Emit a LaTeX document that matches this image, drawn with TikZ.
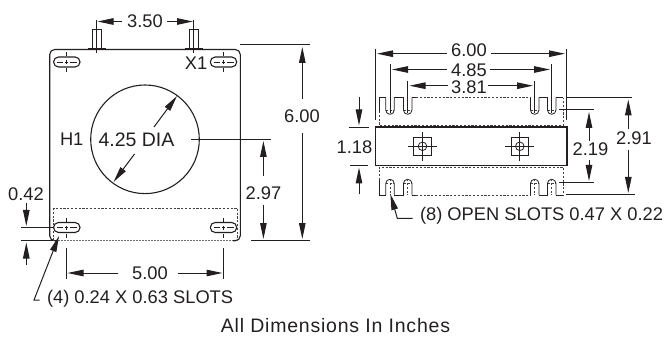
\documentclass[tikz,border=0pt]{standalone}
\usepackage{fontspec}
\setmainfont{Liberation Sans}
\usetikzlibrary{arrows.meta}
\definecolor{ink}{HTML}{231F20}
\tikzset{
  x=1pt,y=-1pt,
  every node/.style={inner sep=0pt,outer sep=0pt,text=ink,font=\fontsize{18.3}{20}\selectfont},
  part/.style={draw=ink,line width=1.1pt},
  thin part/.style={draw=ink,line width=0.8pt},
  ext/.style={draw=ink,line width=1pt},
  dim/.style={draw=ink,line width=1pt,-{Triangle[length=16pt,width=6.5pt]}},
  hid/.style={draw=ink!85,line width=0.7pt,dash pattern=on 2.2pt off 1.6pt},
  hidb/.style={draw=ink!65,line width=1.3pt,dash pattern=on 1.8pt off 1.2pt},
}
\newcommand{\holeslot}[2]{%
  \draw[part,rounded corners=4.9pt] (#1-13.2,#2-5) rectangle (#1+13.2,#2+5);
  \draw[thin part] (#1,#2-10) -- (#1,#2-6) (#1,#2-2)--(#1,#2+2) (#1,#2+6)--(#1,#2+10);
  \draw[thin part] (#1-10,#2) -- (#1-3.5,#2) (#1-1.5,#2)--(#1+1.5,#2) (#1+3.5,#2)--(#1+10,#2);
}
\newcommand{\terminal}[1]{%
  \draw[thin part] (#1-4.3,48) -- (#1-4.3,29.5) -- (#1+4.3,29.5) -- (#1+4.3,48);
  \draw[part] (#1-9,48.5) -- (#1+9,48.5);
  \draw[thin part] (#1,20) -- (#1,53.5);
}
\newcommand{\bolt}[2]{%
  \draw[thin part] (#1-8.7,#2-8.7) rectangle (#1+8.7,#2+8.7);
  \draw[thin part] (#1,#2) circle[radius=4.3];
  \draw[thin part] (#1-14.5,#2) -- (#1+14.5,#2) (#1,#2-14.5) -- (#1,#2+14.5);
}
\newcommand{\uslot}[1]{%
  \draw[thin part,rounded corners=4.1pt] (#1-4.2,97.7) -- (#1-4.2,114.3) -- (#1+4.2,114.3) -- (#1+4.2,97.7);
  \draw[hid] (#1-4.2,110) -- (#1+4.2,110);
}
\newcommand{\lslot}[1]{%
  \draw[thin part,rounded corners=4.1pt] (#1-4.2,195) -- (#1-4.2,179.3) -- (#1+4.2,179.3) -- (#1+4.2,195);
  \draw[hid] (#1-4.2,183.5) -- (#1+4.2,183.5);
  \draw[hid] (#1,179.3) -- (#1,195);
}
\begin{document}
\begin{tikzpicture}
\useasboundingbox (0,0) rectangle (669,339);
% ---- left view
\draw[part,rounded corners=5pt] (58,240.7) -- (49.7,240.7) -- (49.7,49.5) -- (240.3,49.5) -- (240.3,240.7) -- (233,240.7);
\draw[part] (145,139.3) circle[radius=54.3];
\holeslot{66.8}{62}
\holeslot{223.5}{62}
\holeslot{66.8}{227.5}
\holeslot{223.5}{227.5}
\terminal{96.7}
\terminal{193.7}
\draw[hid] (53.5,240.5) -- (53.5,208.5) -- (237.7,208.5) -- (237.7,240.5);
\draw[hidb] (58,240.7) -- (233,240.7);
\node (h1) at (71.7,139.5) {H1};
\node (x1) at (196,63.5) {X1};
\node[font=\fontsize{19.5}{21}\selectfont] (dia) at (136.5,139.5) {4.25 DIA};
\node (d350) at (145,21) {3.50};
\draw[dim] (122,21.5) -- (97.5,21.5);
\draw[dim] (167,21.5) -- (193,21.5);
\draw[dim] (154,127) -- (177,96);
\draw[dim] (134.5,154) -- (113.5,182);
% 6.00
\draw[ext] (240,44.7) -- (310,44.7);
\draw[ext] (251,240.5) -- (310,240.5);
\node (d600v) at (302,116) {6.00};
\draw[dim] (302.3,99) -- (302.3,47);
\draw[dim] (302.3,133) -- (302.3,239);
% 2.97
\draw[ext] (191,139.5) -- (271,139.5);
\node (d297) at (263.5,193) {2.97};
\draw[dim] (263.4,176) -- (263.4,141);
\draw[dim] (263.4,205) -- (263.4,239);
% 0.42
\node (d042) at (26,194) {0.42};
\draw[ext] (21,227.4) -- (54,227.4);
\draw[ext] (21,240.7) -- (53,240.7);
\draw[dim] (26.3,203) -- (26.3,226);
\draw[dim] (26.3,265) -- (26.3,242.5);
% 5.00
\draw[ext] (66.6,248) -- (66.6,279);
\draw[ext] (223.5,248) -- (223.5,279);
\node (d500) at (150,273) {5.00};
\draw[dim] (118,273) -- (67.5,273);
\draw[dim] (178,273) -- (222.5,273);
% leader 4
\node[anchor=west] (s4) at (47,299) {(4) 0.24 X 0.63 SLOTS};
\draw[draw=ink,line width=1pt,-{Triangle[length=16pt,width=6.5pt]}] (39.5,300) -- (34,300) -- (59,236);
\node[font=\fontsize{19.5}{21}\selectfont\addfontfeatures{LetterSpace=4}] (all) at (335.5,326) {All Dimensions In Inches};
% ---- right view
\draw[part] (375.8,127) rectangle (567,165.7);
\bolt{422.5}{146.3}
\bolt{519.8}{146.3}
% upper flange
\draw[thin part] (379.3,111) -- (379.3,97.7) -- (385.8,97.7) (394.2,97.7) -- (403.5,97.7) (411.9,97.7) -- (416,97.7);
\draw[thin part] (538.9,97.7) -- (547.5,97.7) (555.9,97.7) -- (563.3,97.7);
\draw[hid] (416,97.7) -- (530.5,97.7);
\draw[hid] (379.3,111) -- (379.3,125.3) -- (563.3,125.3) -- (563.3,97.7);
\foreach \s in {390,407.7,534.7,551.7}{\uslot{\s}}
% lower flange
\draw[thin part] (379.3,180) -- (379.3,195) -- (385.8,195) (394.2,195) -- (403.5,195) (411.9,195) -- (416,195);
\draw[thin part] (538.9,195) -- (547.5,195) (555.9,195) -- (563.3,195);
\draw[hid] (416,195) -- (530.5,195);
\draw[hid] (379.3,180) -- (379.3,167.3) -- (563.3,167.3) -- (563.3,195);
\foreach \s in {390,407.7,534.7,551.7}{\lslot{\s}}
% extension lines above
\draw[ext] (375.8,49) -- (375.8,120);
\draw[ext] (566.7,49) -- (566.7,120);
\draw[thin part] (390,64.3) -- (390,113);
\draw[thin part] (407.7,81) -- (407.7,113);
\draw[thin part] (534.7,81) -- (534.7,113);
\draw[thin part] (551.7,64.3) -- (551.7,113);
\node (w600) at (469,50) {6.00};
\draw[dim] (447,53.7) -- (377,53.7);
\draw[dim] (491,53.7) -- (565,53.7);
\node (w485) at (469,70) {4.85};
\draw[dim] (447,69.5) -- (392,69.5);
\draw[dim] (490,69.5) -- (550,69.5);
\node (w381) at (469,87) {3.81};
\draw[dim] (448,85.7) -- (409.5,85.7);
\draw[dim] (488,85.7) -- (533,85.7);
% 1.18
\node (d118) at (354.5,147) {1.18};
\draw[ext] (349,127.3) -- (369,127.3);
\draw[ext] (350,165.7) -- (368,165.7);
\draw[dim] (359,96.7) -- (359,125.5);
\draw[dim] (359,194) -- (359,167.5);
% 2.19
\node (d219) at (590.5,149) {2.19};
\draw[ext] (559,110) -- (594,110);
\draw[ext] (559,182.7) -- (594,182.7);
\draw[dim] (589,141) -- (589,112);
\draw[dim] (589,160) -- (589,181);
% 2.91
\node (d291) at (634,138) {2.91};
\draw[ext] (567,97.7) -- (632,97.7);
\draw[ext] (566,194.5) -- (635,194.5);
\draw[dim] (628.3,129) -- (628.3,99.5);
\draw[dim] (628.3,150) -- (628.3,193);
% leader 8
\node[anchor=west] (s8) at (420,216) {(8) OPEN SLOTS 0.47 X 0.22};
\draw[draw=ink,line width=1pt,-{Triangle[length=16pt,width=6.5pt]}] (412.7,218.3) -- (397.3,218.3) -- (390.3,194);
\end{tikzpicture}
\end{document}
